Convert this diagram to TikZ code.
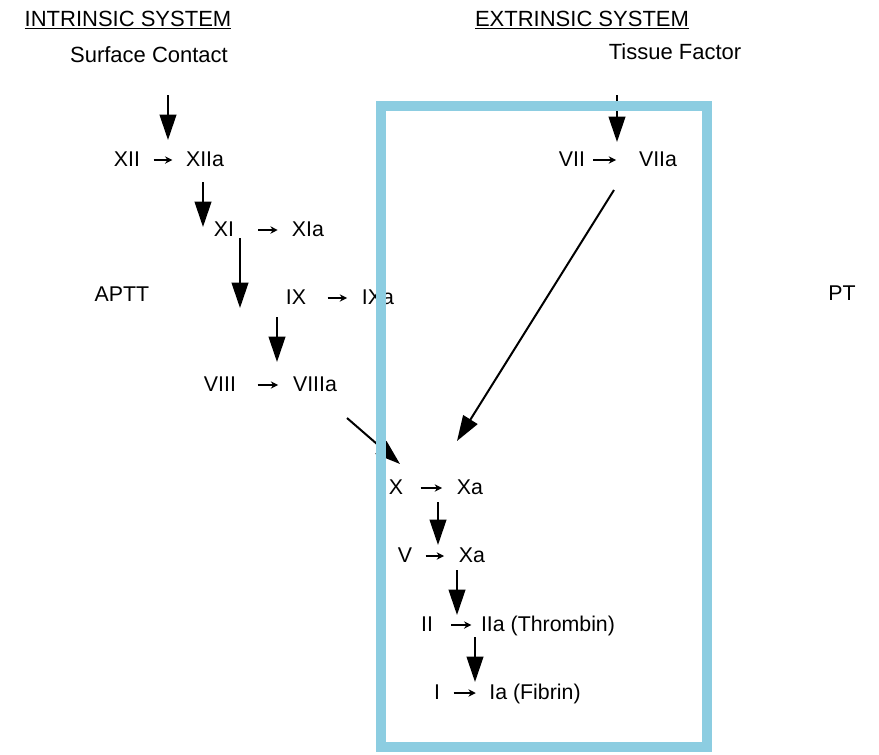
\documentclass[tikz,border=0pt]{standalone}
\usepackage{fontspec}
\setmainfont{Liberation Sans}
\usetikzlibrary{arrows.meta}
\definecolor{boxblue}{RGB}{140,205,225}

\begin{document}
\begin{tikzpicture}[
    x=0.75pt, y=-0.75pt,
    title/.style={inner sep=0pt, font=\fontsize{16.5}{20}\selectfont},
    factor/.style={inner sep=0pt, text height=12pt, text depth=3pt, font=\fontsize{16}{19}\selectfont},
    react/.style n args={2}{-{Stealth[length=5.5pt,width=5.5pt]}, line width=1pt, shorten <=#1, shorten >=#2},
    flow/.style={-{Triangle[length=19pt,width=12.5pt]}, line width=1.5pt}
]
\useasboundingbox (0,0) rectangle (879,754);

\node[title] (INT) at (128,20) {\underline{INTRINSIC SYSTEM}};
\node[title] (SC) at (149,55) {Surface Contact};
\node[title] (EXT) at (582,20) {\underline{EXTRINSIC SYSTEM}};
\node[title] (TF) at (675,52) {Tissue Factor};
\node[factor] (APTT) at (122,295) {APTT};
\node[factor] (PT) at (842,294) {PT};

\node[factor] (XII) at (127,160) {XII};
\node[factor] (XIIa) at (205,160) {XIIa};
\node[factor] (XI) at (224,230) {XI};
\node[factor] (XIa) at (308,230) {XIa};
\node[factor] (IX) at (296,298) {IX};
\node[factor] (IXa) at (378,298) {IXa};
\node[factor] (VIII) at (220,385) {VIII};
\node[factor] (VIIIa) at (315,385) {VIIIa};
\node[factor] (VII) at (572,160) {VII};
\node[factor] (VIIa) at (658,160) {VIIa};
\node[factor] (X) at (396,488) {X};
\node[factor] (Xa) at (470,488) {Xa};
\node[factor] (V) at (405,556) {V};
\node[factor] (Xa2) at (472,556) {Xa};
\node[factor] (II) at (427,625) {II};
\node[factor] (IIa) at (548,625) {IIa (Thrombin)};
\node[factor] (I) at (437,693) {I};
\node[factor] (Ia) at (535,693) {Ia (Fibrin)};

\coordinate (sc-out) at (168,95);   \coordinate (xii-in) at (168,140);
\coordinate (xii-out) at (203,182); \coordinate (xi-in) at (203,227);
\coordinate (xi-out) at (240,238);  \coordinate (ix-in) at (240,308);
\coordinate (ix-out) at (277,317);  \coordinate (viii-in) at (277,362);
\coordinate (viii-out) at (347,418); \coordinate (x-in) at (400,464);
\coordinate (tf-out) at (617,95);   \coordinate (vii-in) at (617,142);
\coordinate (vii-out) at (614,190); \coordinate (x-in2) at (457,441);
\coordinate (x-out) at (438,502);   \coordinate (v-in) at (438,545);
\coordinate (v-out) at (457,570);   \coordinate (ii-in) at (457,615);
\coordinate (ii-out) at (475,637);  \coordinate (i-in) at (475,682);

\draw[react={10pt}{10pt}] (XII) -- (XIIa);
\draw[react={18pt}{10.5pt}] (XI) -- (XIa);
\draw[react={16pt}{11pt}] (IX) -- (IXa);
\draw[react={16pt}{11pt}] (VIII) -- (VIIIa);
\draw[react={6pt}{17pt}] (VII) -- (VIIa);
\draw[react={13pt}{11pt}] (X) -- (Xa);
\draw[react={10pt}{11pt}] (V) -- (Xa2);
\draw[react={13.5pt}{7pt}] (II) -- (IIa);
\draw[react={10pt}{10pt}] (I) -- (Ia);

\draw[flow] (sc-out) -- (xii-in);
\draw[flow] (xii-out) -- (xi-in);
\draw[flow] (xi-out) -- (ix-in);
\draw[flow] (ix-out) -- (viii-in);
\draw[flow] (viii-out) -- (x-in);
\draw[flow] (tf-out) -- (vii-in);
\draw[flow] (vii-out) -- (x-in2);
\draw[flow] (x-out) -- (v-in);
\draw[flow] (v-out) -- (ii-in);
\draw[flow] (ii-out) -- (i-in);

\draw[boxblue, line width=7.5pt] (381,106) rectangle (707,747);
\end{tikzpicture}
\end{document}
